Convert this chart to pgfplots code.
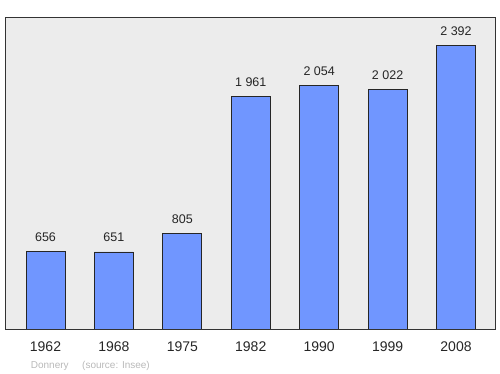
\documentclass[border=0pt]{standalone}
\usepackage{pgfplots}
\pgfplotsset{compat=1.18}
\usepackage{pgfplotstable}
\usepackage{fontspec}
\setmainfont{Liberation Sans}
\definecolor{barblue}{RGB}{112,150,255}
\definecolor{panel}{RGB}{236,236,236}
\definecolor{srcgray}{RGB}{185,185,185}
\pgfplotstableread[col sep=comma]{
x,y,lab
0,656,656
1,651,651
2,805,805
3,1961,1 961
4,2054,2 054
5,2022,2 022
6,2392,2 392
}\data
\begin{document}
\begin{tikzpicture}[x=1pt,y=1pt]
\begin{axis}[
  scale only axis,
  width=490pt, height=312pt,
  at={(5pt,45pt)}, anchor=south west,
  xmin=-0.592, xmax=6.57,
  ymin=0, ymax=2635,
  axis background/.style={fill=panel},
  axis line style={draw=black!80, line width=0.8pt},
  xtick=data,
  xticklabels={1962,1968,1975,1982,1990,1999,2008},
  ytick=\empty,
  major tick length=0pt,
  xticklabel style={font=\fontsize{14}{16}\selectfont, text=black!85, anchor=base, yshift=-22.7pt},
  ybar, bar width=39pt,
  nodes near coords,
  point meta=explicit symbolic,
  nodes near coords style={font=\fontsize{12.5}{14}\selectfont, text=black!85, anchor=base, inner sep=0pt, yshift=10pt},
]
\addplot[fill=barblue, draw=black!85, line width=0.7pt] table[x=x, y=y, meta=lab] {\data};
\end{axis}
\node[anchor=base west, inner sep=0pt, text=srcgray, font=\fontsize{10}{12}\selectfont] at (30.7pt,5.7pt) {Donnery};
\node[anchor=base west, inner sep=0pt, text=srcgray, font=\fontsize{10}{12}\selectfont] at (82pt,5.7pt) {(source: Insee)};
\pgfresetboundingbox
\path[use as bounding box] (0,0) rectangle (500pt,374pt);
\end{tikzpicture}
\end{document}
